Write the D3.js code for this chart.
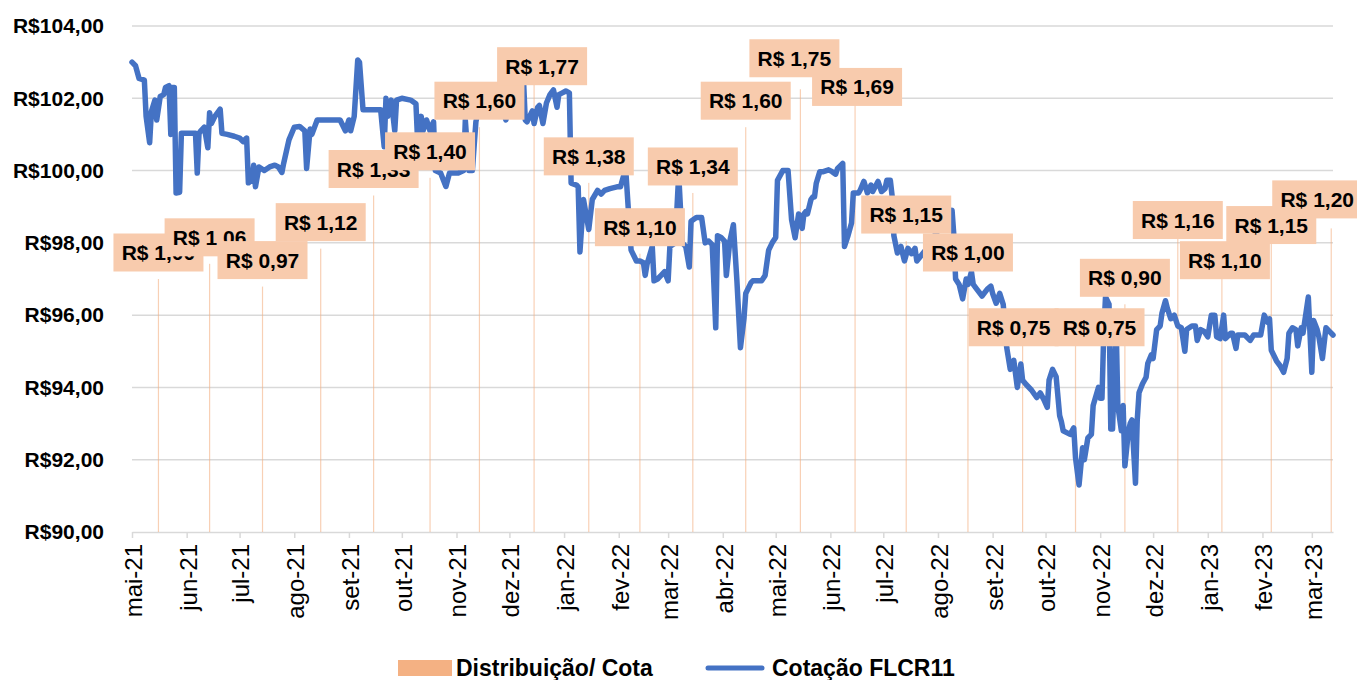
<!DOCTYPE html>
<html>
<head>
<meta charset="utf-8">
<script src="https://cdn.jsdelivr.net/npm/d3@7"></script>
<style>
  html, body { margin: 0; padding: 0; background: #ffffff; }
  svg { display: block; }
  text { font-family: "Liberation Sans", Arial, sans-serif; fill: #000; }
</style>
</head>
<body>
<svg id="chart" width="1357" height="680"></svg>
<script>
// ---------- DATA ----------
const monthNames = ["jan","fev","mar","abr","mai","jun","jul","ago","set","out","nov","dez"];
const yTicks = [90, 92, 94, 96, 98, 100, 102, 104];

const distDates = ["2021-05-16","2021-06-14","2021-07-14","2021-08-16","2021-09-15","2021-10-17",
  "2021-11-14","2021-12-15","2022-01-15","2022-02-13","2022-03-15","2022-04-14","2022-05-15",
  "2022-06-15","2022-07-14","2022-08-18","2022-09-18","2022-10-18","2022-11-15","2022-12-15",
  "2023-01-09","2023-02-06","2023-03-12"];
const distValues = [1.00,1.06,0.97,1.12,1.33,1.40,1.60,1.77,1.38,1.10,1.34,1.60,1.75,1.69,
  1.15,1.00,0.75,0.75,0.90,1.16,1.10,1.15,1.20];

const priceDates = [
"2021-05-01","2021-05-03","2021-05-05","2021-05-08","2021-05-09","2021-05-11","2021-05-12","2021-05-14","2021-05-15","2021-05-17",
"2021-05-19","2021-05-20","2021-05-22","2021-05-23","2021-05-24","2021-05-25","2021-05-26","2021-05-28","2021-05-29","2021-06-06",
"2021-06-07","2021-06-08","2021-06-09","2021-06-11","2021-06-13","2021-06-14","2021-06-15","2021-06-17","2021-06-20","2021-06-21",
"2021-06-24","2021-06-28","2021-07-01","2021-07-03","2021-07-05","2021-07-06","2021-07-08","2021-07-09","2021-07-10","2021-07-12",
"2021-07-15","2021-07-18","2021-07-21","2021-07-23","2021-07-25","2021-07-26","2021-07-29","2021-08-01","2021-08-04","2021-08-07",
"2021-08-08","2021-08-10","2021-08-11","2021-08-14","2021-08-20","2021-08-27","2021-08-30","2021-09-01","2021-09-02","2021-09-04",
"2021-09-06","2021-09-07","2021-09-09","2021-09-19","2021-09-21","2021-09-22","2021-09-23","2021-09-25","2021-09-27","2021-09-28",
"2021-10-01","2021-10-06","2021-10-09","2021-10-10","2021-10-12","2021-10-13","2021-10-15","2021-10-17","2021-10-19","2021-10-20",
"2021-10-23","2021-10-26","2021-10-28","2021-11-02","2021-11-05","2021-11-06","2021-11-08","2021-11-10","2021-11-12","2021-11-14",
"2021-11-20","2021-11-26","2021-11-29","2021-12-01","2021-12-06","2021-12-09","2021-12-10","2021-12-11","2021-12-14","2021-12-15",
"2021-12-17","2021-12-18","2021-12-20","2021-12-22","2021-12-24","2021-12-26","2021-12-28","2021-12-29","2021-12-31","2022-01-02",
"2022-01-04","2022-01-05","2022-01-08","2022-01-09","2022-01-10","2022-01-12","2022-01-15","2022-01-17","2022-01-20","2022-01-22",
"2022-01-24","2022-01-27","2022-01-31","2022-02-02","2022-02-04","2022-02-05","2022-02-07","2022-02-08","2022-02-11","2022-02-13",
"2022-02-15","2022-02-16","2022-02-17","2022-02-20","2022-02-21","2022-02-23","2022-02-25","2022-02-27","2022-03-01","2022-03-02",
"2022-03-05","2022-03-07","2022-03-09","2022-03-11","2022-03-13","2022-03-14","2022-03-17","2022-03-20","2022-03-22","2022-03-24",
"2022-03-26","2022-03-28","2022-03-29","2022-03-31","2022-04-02","2022-04-03","2022-04-05","2022-04-07","2022-04-09","2022-04-11",
"2022-04-13","2022-04-14","2022-04-17","2022-04-18","2022-04-23","2022-04-25","2022-04-27","2022-04-29","2022-05-01","2022-05-02",
"2022-05-05","2022-05-08","2022-05-10","2022-05-12","2022-05-14","2022-05-16","2022-05-17","2022-05-18","2022-05-19","2022-05-21",
"2022-05-22","2022-05-23","2022-05-24","2022-05-26","2022-05-28","2022-05-31","2022-06-02","2022-06-04","2022-06-05","2022-06-08",
"2022-06-09","2022-06-11","2022-06-13","2022-06-14","2022-06-17","2022-06-18","2022-06-20","2022-06-22","2022-06-24","2022-06-25",
"2022-06-28","2022-06-30","2022-07-02","2022-07-03","2022-07-05","2022-07-06","2022-07-07","2022-07-09","2022-07-11","2022-07-13",
"2022-07-15","2022-07-17","2022-07-19","2022-07-20","2022-07-25","2022-07-30","2022-08-05","2022-08-09","2022-08-10","2022-08-11",
"2022-08-13","2022-08-15","2022-08-17","2022-08-18","2022-08-20","2022-08-21","2022-08-23","2022-08-26","2022-08-29","2022-08-31",
"2022-09-01","2022-09-03","2022-09-05","2022-09-07","2022-09-09","2022-09-11","2022-09-13","2022-09-15","2022-09-17","2022-09-18",
"2022-09-20","2022-09-23","2022-09-26","2022-09-28","2022-09-30","2022-10-02","2022-10-03","2022-10-05","2022-10-07","2022-10-09",
"2022-10-10","2022-10-11","2022-10-13","2022-10-15","2022-10-17","2022-10-18","2022-10-20","2022-10-22","2022-10-23","2022-10-25",
"2022-10-27","2022-10-28","2022-10-31","2022-11-01","2022-11-02","2022-11-03","2022-11-04","2022-11-06","2022-11-07","2022-11-08",
"2022-11-10","2022-11-11","2022-11-13","2022-11-14","2022-11-15","2022-11-17","2022-11-18","2022-11-19","2022-11-21","2022-11-22",
"2022-11-23","2022-11-25","2022-11-27","2022-11-28","2022-11-30","2022-12-01","2022-12-03","2022-12-05","2022-12-06","2022-12-08",
"2022-12-09","2022-12-11","2022-12-13","2022-12-15","2022-12-17","2022-12-19","2022-12-20","2022-12-23","2022-12-25","2022-12-26",
"2022-12-28","2022-12-30","2023-01-01","2023-01-03","2023-01-05","2023-01-06","2023-01-08","2023-01-10","2023-01-11","2023-01-14",
"2023-01-15","2023-01-17","2023-01-18","2023-01-22","2023-01-25","2023-01-27","2023-01-31","2023-02-02","2023-02-04","2023-02-05",
"2023-02-06","2023-02-09","2023-02-11","2023-02-13","2023-02-15","2023-02-16","2023-02-18","2023-02-20","2023-02-21","2023-02-23",
"2023-02-24","2023-02-27","2023-03-01","2023-03-02","2023-03-04","2023-03-05","2023-03-07","2023-03-09","2023-03-11","2023-03-13"];

const priceValues = [
103.0,102.9,102.55,102.5,101.5,100.77,101.63,101.95,101.4,102.05,
102.1,102.3,102.35,101.0,102.3,102.3,99.38,99.4,101.03,101.03,
99.93,101.03,101.1,101.2,100.63,101.6,101.3,101.5,101.7,101.03,
101.0,100.95,100.9,100.8,100.9,99.66,99.75,100.15,99.55,100.1,
100.0,100.1,100.15,100.1,99.95,100.2,100.85,101.2,101.22,101.1,
100.06,101.15,101.0,101.4,101.4,101.4,101.1,101.4,101.1,101.5,
103.06,103.0,101.68,101.68,100.66,102.0,101.5,101.95,101.1,101.95,
102.0,101.95,101.85,100.76,101.5,101.1,101.4,101.1,101.35,100.0,
99.93,99.56,99.93,99.93,100.0,101.4,100.0,100.0,101.35,101.8,
102.1,101.9,101.4,101.9,102.4,102.5,101.4,101.35,101.65,101.3,
101.75,101.8,101.3,101.87,102.1,102.23,101.75,102.1,102.15,102.2,
102.15,99.65,99.6,99.55,97.75,99.2,98.37,99.2,99.45,99.35,
99.45,99.5,99.55,99.55,99.9,100.0,98.5,97.8,97.5,97.5,
97.45,97.1,97.4,97.9,96.95,97.0,97.1,97.2,96.95,97.9,
98.0,99.9,98.0,97.9,97.33,98.6,98.7,98.7,98.0,98.05,
97.95,95.65,98.2,98.15,98.05,97.1,98.05,98.5,96.95,95.1,
95.9,96.6,96.9,96.95,96.95,97.1,97.8,98.0,98.15,99.73,
100.0,100.0,98.64,98.14,98.8,98.4,98.8,98.86,98.8,99.2,
99.27,99.27,99.65,99.97,99.97,100.02,99.97,99.9,100.05,100.2,
97.9,98.2,98.55,99.38,99.38,99.47,99.7,99.38,99.6,99.42,
99.7,99.42,99.5,99.73,99.73,99.3,98.2,97.72,97.9,97.5,
97.85,97.7,97.85,97.5,97.8,98.2,98.6,98.9,98.22,97.0,
96.85,96.45,97.0,96.85,97.2,96.85,96.72,96.53,96.72,96.8,
96.6,96.33,96.6,96.3,95.1,94.5,94.75,94.0,94.65,94.2,
94.08,93.93,93.72,93.85,93.67,93.45,94.2,94.5,94.3,93.22,
93.05,92.8,92.75,92.7,92.88,92.05,91.3,92.33,92.0,92.6,
92.7,93.5,94.0,93.7,93.7,95.5,96.5,96.3,92.85,92.85,
95.8,93.5,92.8,93.5,91.83,92.8,93.0,93.1,91.35,93.1,
93.85,94.1,94.28,94.67,94.9,94.8,95.6,95.7,96.05,96.4,
96.2,95.9,96.0,95.7,95.65,95.0,95.6,95.7,95.7,95.3,
95.6,95.55,95.4,96.0,96.0,95.4,95.35,96.0,95.35,95.5,
95.5,95.08,95.45,95.45,95.3,95.45,95.45,96.0,95.8,95.9,
95.03,94.73,94.6,94.42,94.8,95.5,95.65,95.6,95.15,95.65,
95.5,96.5,94.42,95.85,95.6,95.4,94.8,95.65,95.55,95.45];

const legendLabels = ["Distribuição/ Cota", "Cotação FLCR11"];

// ---------- LAYOUT / STYLE ----------
const plot = { left: 132, right: 1333, top: 26, bottom: 532 };
const colors = { line: "#4472C4", bar: "#F4B183", label: "#F8CBAD", grid: "#D9D9D9" };
// manual label nudges (dx, dy) as in the original chart
const labelNudge = {7:[8,8.5], 12:[-6,-4.5], 13:[2,9], 16:[-9,11.5], 17:[24,11.5],
  19:[0,8], 20:[3,33], 21:[0,10.5], 22:[-14,-2.5]};

const parse = d3.timeParse("%Y-%m-%d");
const prices = priceDates.map((d, i) => ({ date: parse(d), value: priceValues[i] }));
const dists = distDates.map((d, i) => ({ date: parse(d), value: distValues[i] }));

const x = d3.scaleTime()
  .domain([parse("2021-05-01"), parse("2023-03-13")])
  .range([plot.left, plot.right]);
const y = d3.scaleLinear().domain([90, 104]).range([plot.bottom, plot.top]);
const y2 = d3.scaleLinear().domain([0, 2]).range([plot.bottom, plot.top]);

const svg = d3.select("#chart");

// gridlines
svg.append("g").selectAll("line")
  .data(yTicks.filter(t => t > 90))
  .join("line")
  .attr("x1", plot.left).attr("x2", plot.right)
  .attr("y1", d => y(d)).attr("y2", d => y(d))
  .attr("stroke", colors.grid).attr("stroke-width", 1.5);

// y axis labels
const yAxis = d3.axisLeft(y).tickValues(yTicks)
  .tickFormat(d => "R$" + d.toFixed(2).replace(".", ","))
  .tickSize(0).tickPadding(28);
const gy = svg.append("g").attr("transform", `translate(${plot.left},0)`).call(yAxis);
gy.select(".domain").remove();
gy.selectAll("text").attr("font-size", 21).attr("font-weight", "bold")
  .attr("font-family", "'Liberation Sans', Arial, sans-serif").attr("fill", "#000");

// x axis
const monthTicks = d3.timeMonth.range(parse("2021-05-01"), parse("2023-03-13"));
const xAxis = d3.axisBottom(x).tickValues(monthTicks)
  .tickFormat(d => monthNames[d.getMonth()] + "-" + String(d.getFullYear() % 100).padStart(2, "0"))
  .tickSize(6).tickSizeOuter(0);
const gx = svg.append("g").attr("transform", `translate(0,${plot.bottom})`).call(xAxis);
gx.select(".domain").attr("stroke", colors.grid).attr("stroke-width", 1.5);
gx.selectAll(".tick line").attr("stroke", colors.grid).attr("stroke-width", 1.5);
gx.selectAll("text")
  .attr("transform", "rotate(-90)")
  .attr("text-anchor", "end")
  .attr("x", -12).attr("y", 1).attr("dy", "0.35em")
  .attr("font-size", 24)
  .attr("font-family", "'Liberation Sans', Arial, sans-serif").attr("fill", "#000");

// distribution bars (secondary axis, thin)
svg.append("g").selectAll("rect")
  .data(dists)
  .join("rect")
  .attr("x", d => x(d.date) - 0.6)
  .attr("width", 1.2)
  .attr("y", d => y2(d.value))
  .attr("height", d => plot.bottom - y2(d.value))
  .attr("fill", colors.bar).attr("opacity", 0.6);

// price line
const line = d3.line().x(d => x(d.date)).y(d => y(d.value));
svg.append("path")
  .datum(prices)
  .attr("d", line)
  .attr("fill", "none")
  .attr("stroke", colors.line)
  .attr("stroke-width", 5.5)
  .attr("stroke-linejoin", "round")
  .attr("stroke-linecap", "round");

// data labels
const boxW = 90, boxH = 38, gap = 7.5;
const lg = svg.append("g");
dists.forEach((d, i) => {
  const n = labelNudge[i] || [0, 0];
  const cx = x(d.date) + n[0];
  const bottom = y2(d.value) - gap + n[1];
  const g = lg.append("g");
  g.append("rect")
    .attr("x", cx - boxW / 2).attr("y", bottom - boxH)
    .attr("width", boxW).attr("height", boxH)
    .attr("fill", colors.label);
  g.append("text")
    .attr("x", cx).attr("y", bottom - boxH / 2)
    .attr("dy", "0.36em")
    .attr("text-anchor", "middle")
    .attr("font-size", 21).attr("font-weight", "bold")
    .text("R$ " + d.value.toFixed(2).replace(".", ","));
});

// legend
const leg = svg.append("g");
leg.append("rect").attr("x", 398).attr("y", 660).attr("width", 54).attr("height", 16)
  .attr("fill", colors.bar);
leg.append("text").attr("x", 456).attr("y", 676).attr("font-size", 23).attr("font-weight", "bold")
  .text(legendLabels[0]);
leg.append("line").attr("x1", 708).attr("x2", 762).attr("y1", 668).attr("y2", 668)
  .attr("stroke", colors.line).attr("stroke-width", 5).attr("stroke-linecap", "round");
leg.append("text").attr("x", 772).attr("y", 676).attr("font-size", 23).attr("font-weight", "bold")
  .text(legendLabels[1]);
</script>
</body>
</html>
